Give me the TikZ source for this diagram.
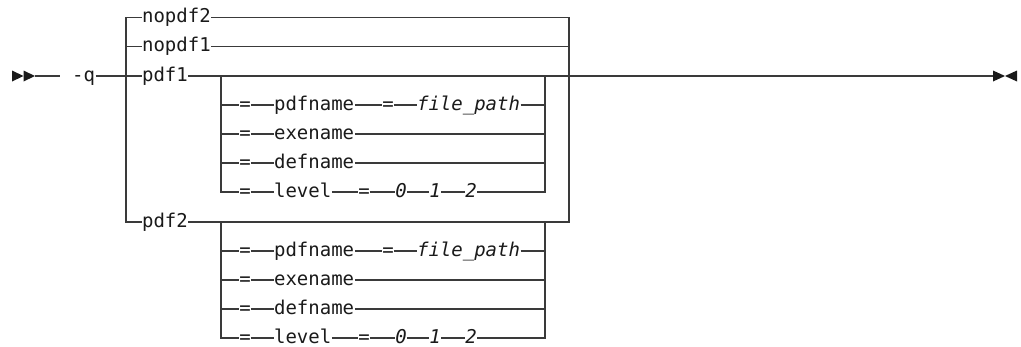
\documentclass[tikz,border=0pt]{standalone}
\usepackage{fontspec}
\setmonofont{DejaVu Sans Mono}
\definecolor{lc}{HTML}{3A3A3A}
\definecolor{tc}{HTML}{1A1A1A}
\begin{document}
\begin{tikzpicture}[x=1pt,y=-1pt,line width=1.2pt,draw=lc,
  txt/.style={inner sep=0pt,anchor=west,text height=10.4pt,text depth=0pt,text=tc,font=\ttfamily\fontsize{19}{22}\selectfont},
  itx/.style={txt,font=\ttfamily\itshape\fontsize{19}{22}\selectfont},
  sym/.style={txt,anchor=center},
  isym/.style={itx,anchor=center},
  tipfill/.style={fill=tc,draw=none}]
\useasboundingbox (0,0) rectangle (1021,346);
% start and end symbols
\coordinate (s0) at (35,76);
\coordinate (s1) at (60,76);
\coordinate (e0) at (993,76);
\fill[tipfill] (12,70.5) -- (23.5,76) -- (12,81.5) -- cycle;
\fill[tipfill] (23.5,70.5) -- (35,76) -- (23.5,81.5) -- cycle;
\fill[tipfill] (993,70.5) -- (1005,76) -- (993,81.5) -- cycle;
\fill[tipfill] (1017,70.5) -- (1005,76) -- (1017,81.5) -- cycle;
% column guides
\coordinate (Lx) at (126,0);
\coordinate (Rx) at (569,0);
\coordinate (ILx) at (221,0);
\coordinate (IRx) at (545,0);
% main nodes
\node[txt] (q) at (71.5,76) {-q};
\node[txt] (np2) at (141.5,17.3) {nopdf2};
\node[txt] (np1) at (141.5,46.5) {nopdf1};
\node[txt] (p1) at (141.5,76) {pdf1};
\node[txt] (p2) at (141.5,222) {pdf2};
\draw (s0) -- (s1);
\draw (q.east) -- (p1.west);
\draw (p1.east) -- (e0);
\draw (np2.west) -- (np2.west -| Lx) -- (p2.west -| Lx) -- (p2.west);
\draw (np1.west -| Lx) -- (np1.west);
\draw (np2.east) -- (np2.east -| Rx) -- (p2.east -| Rx) -- (p2.east);
\draw (np1.east) -- (np1.east -| Rx);
% sub blocks
\foreach \b/\yo/\P in {A/0/p1,B/146/p2}{
  \node[sym] (\b e1) at (245,{105+\yo}) {=};
  \node[txt] (\b pn) at (273.5,{105+\yo}) {pdfname};
  \node[sym] (\b e1b) at (388,{105+\yo}) {=};
  \node[itx] (\b fp) at (416.5,{105+\yo}) {file\_path};
  \node[sym] (\b e2) at (245,{134+\yo}) {=};
  \node[txt] (\b ex) at (273.5,{134+\yo}) {exename};
  \node[sym] (\b e3) at (245,{163+\yo}) {=};
  \node[txt] (\b df) at (273.5,{163+\yo}) {defname};
  \node[sym] (\b e4) at (245,{192+\yo}) {=};
  \node[txt] (\b lv) at (273.5,{192+\yo}) {level};
  \node[sym] (\b e4b) at (364,{192+\yo}) {=};
  \node[isym] (\b z0) at (401,{192+\yo}) {0};
  \node[isym] (\b z1) at (435,{192+\yo}) {1};
  \node[isym] (\b z2) at (471,{192+\yo}) {2};
  \draw (\P.east -| ILx) -- (\b e4.west -| ILx) -- (\b e4.west);
  \draw (\b e1.west -| ILx) -- (\b e1.west);
  \draw (\b e2.west -| ILx) -- (\b e2.west);
  \draw (\b e3.west -| ILx) -- (\b e3.west);
  \draw (\b e1.east) -- (\b pn.west);
  \draw (\b pn.east) -- (\b e1b.west);
  \draw (\b e1b.east) -- (\b fp.west);
  \draw (\b fp.east) -- (\b fp.east -| IRx);
  \draw (\b e2.east) -- (\b ex.west);
  \draw (\b ex.east) -- (\b ex.east -| IRx);
  \draw (\b e3.east) -- (\b df.west);
  \draw (\b df.east) -- (\b df.east -| IRx);
  \draw (\b e4.east) -- (\b lv.west);
  \draw (\b lv.east) -- (\b e4b.west);
  \draw (\b e4b.east) -- (\b z0.west);
  \draw (\b z0.east) -- (\b z1.west);
  \draw (\b z1.east) -- (\b z2.west);
  \draw (\b z2.east) -- (\b z2.east -| IRx) -- (\P.east -| IRx);
}
\end{tikzpicture}
\end{document}
